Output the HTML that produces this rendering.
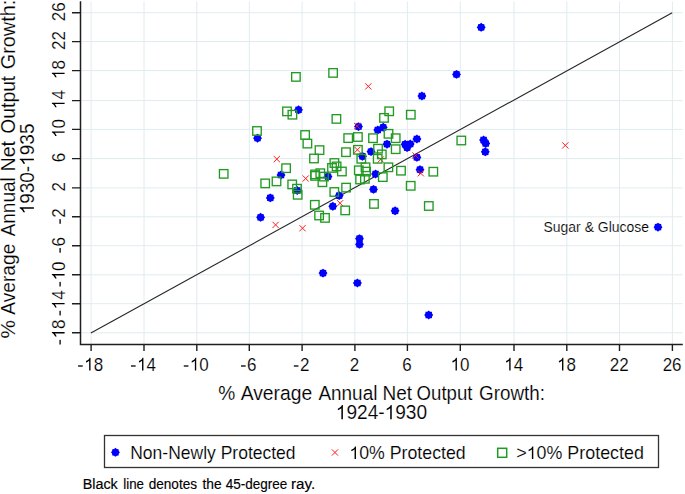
<!DOCTYPE html><html><head><meta charset="utf-8"><style>html,body{margin:0;padding:0;background:#fff;}svg{display:block;}text{font-family:"Liberation Sans",sans-serif;fill:#000;stroke:#fff;stroke-width:0.15px;}</style></head><body>
<svg width="685" height="494" viewBox="0 0 685 494">
<rect width="685" height="494" fill="#fff"/>
<path d="M91.10 1.5V344 M81 332.80H682.5 M144.00 1.5V344 M81 303.70H682.5 M196.80 1.5V344 M81 274.80H682.5 M249.30 1.5V344 M81 245.70H682.5 M302.10 1.5V344 M81 216.80H682.5 M354.90 1.5V344 M81 187.90H682.5 M407.40 1.5V344 M81 158.60H682.5 M460.30 1.5V344 M81 129.40H682.5 M514.00 1.5V344 M81 100.60H682.5 M566.80 1.5V344 M81 70.60H682.5 M619.50 1.5V344 M81 41.60H682.5 M672.40 1.5V344 M81 12.70H682.5" stroke="#e0ecef" stroke-width="1" fill="none"/>
<line x1="90.89" y1="333.06" x2="672.21" y2="12.81" stroke="#262626" stroke-width="1.1"/>
<g fill="#0000ff"><polygon points="481.20,22.85 479.80,23.93 478.05,24.15 477.83,25.90 476.75,27.30 477.83,28.70 478.05,30.45 479.80,30.67 481.20,31.75 482.60,30.67 484.35,30.45 484.57,28.70 485.65,27.30 484.57,25.90 484.35,24.15 482.60,23.93"/><polygon points="456.50,69.95 455.10,71.03 453.35,71.25 453.13,73.00 452.05,74.40 453.13,75.80 453.35,77.55 455.10,77.77 456.50,78.85 457.90,77.77 459.65,77.55 459.87,75.80 460.95,74.40 459.87,73.00 459.65,71.25 457.90,71.03"/><polygon points="421.90,91.55 420.50,92.63 418.75,92.85 418.53,94.60 417.45,96.00 418.53,97.40 418.75,99.15 420.50,99.37 421.90,100.45 423.30,99.37 425.05,99.15 425.27,97.40 426.35,96.00 425.27,94.60 425.05,92.85 423.30,92.63"/><polygon points="298.50,105.35 297.10,106.43 295.35,106.65 295.13,108.40 294.05,109.80 295.13,111.20 295.35,112.95 297.10,113.17 298.50,114.25 299.90,113.17 301.65,112.95 301.87,111.20 302.95,109.80 301.87,108.40 301.65,106.65 299.90,106.43"/><polygon points="257.50,133.75 256.10,134.83 254.35,135.05 254.13,136.80 253.05,138.20 254.13,139.60 254.35,141.35 256.10,141.57 257.50,142.65 258.90,141.57 260.65,141.35 260.87,139.60 261.95,138.20 260.87,136.80 260.65,135.05 258.90,134.83"/><polygon points="358.50,122.15 357.10,123.23 355.35,123.45 355.13,125.20 354.05,126.60 355.13,128.00 355.35,129.75 357.10,129.97 358.50,131.05 359.90,129.97 361.65,129.75 361.87,128.00 362.95,126.60 361.87,125.20 361.65,123.45 359.90,123.23"/><polygon points="377.80,125.55 376.40,126.63 374.65,126.85 374.43,128.60 373.35,130.00 374.43,131.40 374.65,133.15 376.40,133.37 377.80,134.45 379.20,133.37 380.95,133.15 381.17,131.40 382.25,130.00 381.17,128.60 380.95,126.85 379.20,126.63"/><polygon points="383.20,122.85 381.80,123.93 380.05,124.15 379.83,125.90 378.75,127.30 379.83,128.70 380.05,130.45 381.80,130.67 383.20,131.75 384.60,130.67 386.35,130.45 386.57,128.70 387.65,127.30 386.57,125.90 386.35,124.15 384.60,123.93"/><polygon points="416.90,134.55 415.50,135.63 413.75,135.85 413.53,137.60 412.45,139.00 413.53,140.40 413.75,142.15 415.50,142.37 416.90,143.45 418.30,142.37 420.05,142.15 420.27,140.40 421.35,139.00 420.27,137.60 420.05,135.85 418.30,135.63"/><polygon points="387.00,139.75 385.60,140.83 383.85,141.05 383.63,142.80 382.55,144.20 383.63,145.60 383.85,147.35 385.60,147.57 387.00,148.65 388.40,147.57 390.15,147.35 390.37,145.60 391.45,144.20 390.37,142.80 390.15,141.05 388.40,140.83"/><polygon points="405.10,139.85 403.70,140.93 401.95,141.15 401.73,142.90 400.65,144.30 401.73,145.70 401.95,147.45 403.70,147.67 405.10,148.75 406.50,147.67 408.25,147.45 408.47,145.70 409.55,144.30 408.47,142.90 408.25,141.15 406.50,140.93"/><polygon points="410.20,139.55 408.80,140.63 407.05,140.85 406.83,142.60 405.75,144.00 406.83,145.40 407.05,147.15 408.80,147.37 410.20,148.45 411.60,147.37 413.35,147.15 413.57,145.40 414.65,144.00 413.57,142.60 413.35,140.85 411.60,140.63"/><polygon points="407.10,143.15 405.70,144.23 403.95,144.45 403.73,146.20 402.65,147.60 403.73,149.00 403.95,150.75 405.70,150.97 407.10,152.05 408.50,150.97 410.25,150.75 410.47,149.00 411.55,147.60 410.47,146.20 410.25,144.45 408.50,144.23"/><polygon points="483.60,135.55 482.20,136.63 480.45,136.85 480.23,138.60 479.15,140.00 480.23,141.40 480.45,143.15 482.20,143.37 483.60,144.45 485.00,143.37 486.75,143.15 486.97,141.40 488.05,140.00 486.97,138.60 486.75,136.85 485.00,136.63"/><polygon points="485.70,139.05 484.30,140.13 482.55,140.35 482.33,142.10 481.25,143.50 482.33,144.90 482.55,146.65 484.30,146.87 485.70,147.95 487.10,146.87 488.85,146.65 489.07,144.90 490.15,143.50 489.07,142.10 488.85,140.35 487.10,140.13"/><polygon points="485.30,147.35 483.90,148.43 482.15,148.65 481.93,150.40 480.85,151.80 481.93,153.20 482.15,154.95 483.90,155.17 485.30,156.25 486.70,155.17 488.45,154.95 488.67,153.20 489.75,151.80 488.67,150.40 488.45,148.65 486.70,148.43"/><polygon points="362.50,151.85 361.10,152.93 359.35,153.15 359.13,154.90 358.05,156.30 359.13,157.70 359.35,159.45 361.10,159.67 362.50,160.75 363.90,159.67 365.65,159.45 365.87,157.70 366.95,156.30 365.87,154.90 365.65,153.15 363.90,152.93"/><polygon points="371.00,147.15 369.60,148.23 367.85,148.45 367.63,150.20 366.55,151.60 367.63,153.00 367.85,154.75 369.60,154.97 371.00,156.05 372.40,154.97 374.15,154.75 374.37,153.00 375.45,151.60 374.37,150.20 374.15,148.45 372.40,148.23"/><polygon points="416.90,152.95 415.50,154.03 413.75,154.25 413.53,156.00 412.45,157.40 413.53,158.80 413.75,160.55 415.50,160.77 416.90,161.85 418.30,160.77 420.05,160.55 420.27,158.80 421.35,157.40 420.27,156.00 420.05,154.25 418.30,154.03"/><polygon points="420.00,165.25 418.60,166.33 416.85,166.55 416.63,168.30 415.55,169.70 416.63,171.10 416.85,172.85 418.60,173.07 420.00,174.15 421.40,173.07 423.15,172.85 423.37,171.10 424.45,169.70 423.37,168.30 423.15,166.55 421.40,166.33"/><polygon points="281.00,170.55 279.60,171.63 277.85,171.85 277.63,173.60 276.55,175.00 277.63,176.40 277.85,178.15 279.60,178.37 281.00,179.45 282.40,178.37 284.15,178.15 284.37,176.40 285.45,175.00 284.37,173.60 284.15,171.85 282.40,171.63"/><polygon points="328.00,172.15 326.60,173.23 324.85,173.45 324.63,175.20 323.55,176.60 324.63,178.00 324.85,179.75 326.60,179.97 328.00,181.05 329.40,179.97 331.15,179.75 331.37,178.00 332.45,176.60 331.37,175.20 331.15,173.45 329.40,173.23"/><polygon points="375.60,169.55 374.20,170.63 372.45,170.85 372.23,172.60 371.15,174.00 372.23,175.40 372.45,177.15 374.20,177.37 375.60,178.45 377.00,177.37 378.75,177.15 378.97,175.40 380.05,174.00 378.97,172.60 378.75,170.85 377.00,170.63"/><polygon points="297.20,186.05 295.80,187.13 294.05,187.35 293.83,189.10 292.75,190.50 293.83,191.90 294.05,193.65 295.80,193.87 297.20,194.95 298.60,193.87 300.35,193.65 300.57,191.90 301.65,190.50 300.57,189.10 300.35,187.35 298.60,187.13"/><polygon points="339.20,191.15 337.80,192.23 336.05,192.45 335.83,194.20 334.75,195.60 335.83,197.00 336.05,198.75 337.80,198.97 339.20,200.05 340.60,198.97 342.35,198.75 342.57,197.00 343.65,195.60 342.57,194.20 342.35,192.45 340.60,192.23"/><polygon points="373.50,184.95 372.10,186.03 370.35,186.25 370.13,188.00 369.05,189.40 370.13,190.80 370.35,192.55 372.10,192.77 373.50,193.85 374.90,192.77 376.65,192.55 376.87,190.80 377.95,189.40 376.87,188.00 376.65,186.25 374.90,186.03"/><polygon points="270.30,193.45 268.90,194.53 267.15,194.75 266.93,196.50 265.85,197.90 266.93,199.30 267.15,201.05 268.90,201.27 270.30,202.35 271.70,201.27 273.45,201.05 273.67,199.30 274.75,197.90 273.67,196.50 273.45,194.75 271.70,194.53"/><polygon points="332.80,201.85 331.40,202.93 329.65,203.15 329.43,204.90 328.35,206.30 329.43,207.70 329.65,209.45 331.40,209.67 332.80,210.75 334.20,209.67 335.95,209.45 336.17,207.70 337.25,206.30 336.17,204.90 335.95,203.15 334.20,202.93"/><polygon points="395.10,206.35 393.70,207.43 391.95,207.65 391.73,209.40 390.65,210.80 391.73,212.20 391.95,213.95 393.70,214.17 395.10,215.25 396.50,214.17 398.25,213.95 398.47,212.20 399.55,210.80 398.47,209.40 398.25,207.65 396.50,207.43"/><polygon points="260.60,212.85 259.20,213.93 257.45,214.15 257.23,215.90 256.15,217.30 257.23,218.70 257.45,220.45 259.20,220.67 260.60,221.75 262.00,220.67 263.75,220.45 263.97,218.70 265.05,217.30 263.97,215.90 263.75,214.15 262.00,213.93"/><polygon points="359.50,234.25 358.10,235.33 356.35,235.55 356.13,237.30 355.05,238.70 356.13,240.10 356.35,241.85 358.10,242.07 359.50,243.15 360.90,242.07 362.65,241.85 362.87,240.10 363.95,238.70 362.87,237.30 362.65,235.55 360.90,235.33"/><polygon points="359.50,239.85 358.10,240.93 356.35,241.15 356.13,242.90 355.05,244.30 356.13,245.70 356.35,247.45 358.10,247.67 359.50,248.75 360.90,247.67 362.65,247.45 362.87,245.70 363.95,244.30 362.87,242.90 362.65,241.15 360.90,240.93"/><polygon points="323.00,268.65 321.60,269.73 319.85,269.95 319.63,271.70 318.55,273.10 319.63,274.50 319.85,276.25 321.60,276.47 323.00,277.55 324.40,276.47 326.15,276.25 326.37,274.50 327.45,273.10 326.37,271.70 326.15,269.95 324.40,269.73"/><polygon points="357.40,278.55 356.00,279.63 354.25,279.85 354.03,281.60 352.95,283.00 354.03,284.40 354.25,286.15 356.00,286.37 357.40,287.45 358.80,286.37 360.55,286.15 360.77,284.40 361.85,283.00 360.77,281.60 360.55,279.85 358.80,279.63"/><polygon points="428.70,310.55 427.30,311.63 425.55,311.85 425.33,313.60 424.25,315.00 425.33,316.40 425.55,318.15 427.30,318.37 428.70,319.45 430.10,318.37 431.85,318.15 432.07,316.40 433.15,315.00 432.07,313.60 431.85,311.85 430.10,311.63"/><polygon points="658.00,222.75 656.60,223.83 654.85,224.05 654.63,225.80 653.55,227.20 654.63,228.60 654.85,230.35 656.60,230.57 658.00,231.65 659.40,230.57 661.15,230.35 661.37,228.60 662.45,227.20 661.37,225.80 661.15,224.05 659.40,223.83"/></g>
<path d="M365.20 83.30L371.40 89.50M365.20 89.50L371.40 83.30M354.10 123.00L360.30 129.20M354.10 129.20L360.30 123.00M273.70 156.00L279.90 162.20M273.70 162.20L279.90 156.00M302.60 175.40L308.80 181.60M302.60 181.60L308.80 175.40M354.30 146.70L360.50 152.90M354.30 152.90L360.50 146.70M377.60 156.40L383.80 162.60M377.60 162.60L383.80 156.40M412.50 152.40L418.70 158.60M412.50 158.60L418.70 152.40M417.70 170.20L423.90 176.40M417.70 176.40L423.90 170.20M272.50 221.80L278.70 228.00M272.50 228.00L278.70 221.80M299.40 225.10L305.60 231.30M299.40 231.30L305.60 225.10M337.00 200.10L343.20 206.30M337.00 206.30L343.20 200.10M562.20 142.30L568.40 148.50M562.20 148.50L568.40 142.30" stroke="#ff1a1a" stroke-width="1.0" fill="none"/>
<g fill="none" stroke="#239a23" stroke-width="1.35"><rect x="291.65" y="72.65" width="8.5" height="8.5"/><rect x="328.85" y="68.65" width="8.5" height="8.5"/><rect x="282.75" y="107.15" width="8.5" height="8.5"/><rect x="288.15" y="110.45" width="8.5" height="8.5"/><rect x="332.15" y="114.65" width="8.5" height="8.5"/><rect x="384.95" y="107.05" width="8.5" height="8.5"/><rect x="379.75" y="113.65" width="8.5" height="8.5"/><rect x="406.55" y="110.45" width="8.5" height="8.5"/><rect x="252.75" y="126.75" width="8.5" height="8.5"/><rect x="300.85" y="130.75" width="8.5" height="8.5"/><rect x="303.15" y="139.35" width="8.5" height="8.5"/><rect x="343.95" y="133.85" width="8.5" height="8.5"/><rect x="353.65" y="132.75" width="8.5" height="8.5"/><rect x="368.75" y="133.95" width="8.5" height="8.5"/><rect x="384.25" y="129.55" width="8.5" height="8.5"/><rect x="391.45" y="133.95" width="8.5" height="8.5"/><rect x="315.25" y="145.85" width="8.5" height="8.5"/><rect x="341.75" y="147.95" width="8.5" height="8.5"/><rect x="353.65" y="145.55" width="8.5" height="8.5"/><rect x="373.75" y="144.45" width="8.5" height="8.5"/><rect x="377.55" y="150.15" width="8.5" height="8.5"/><rect x="391.45" y="144.95" width="8.5" height="8.5"/><rect x="309.75" y="154.25" width="8.5" height="8.5"/><rect x="357.05" y="154.55" width="8.5" height="8.5"/><rect x="373.45" y="154.55" width="8.5" height="8.5"/><rect x="384.15" y="163.05" width="8.5" height="8.5"/><rect x="396.75" y="166.45" width="8.5" height="8.5"/><rect x="429.05" y="167.45" width="8.5" height="8.5"/><rect x="281.85" y="163.95" width="8.5" height="8.5"/><rect x="219.45" y="169.60" width="8.5" height="8.5"/><rect x="310.85" y="170.15" width="8.5" height="8.5"/><rect x="310.85" y="171.65" width="8.5" height="8.5"/><rect x="316.05" y="168.95" width="8.5" height="8.5"/><rect x="319.75" y="172.35" width="8.5" height="8.5"/><rect x="318.15" y="177.95" width="8.5" height="8.5"/><rect x="327.75" y="163.65" width="8.5" height="8.5"/><rect x="330.15" y="158.75" width="8.5" height="8.5"/><rect x="332.35" y="162.15" width="8.5" height="8.5"/><rect x="337.65" y="167.25" width="8.5" height="8.5"/><rect x="354.55" y="166.05" width="8.5" height="8.5"/><rect x="361.25" y="163.05" width="8.5" height="8.5"/><rect x="361.85" y="167.35" width="8.5" height="8.5"/><rect x="355.85" y="175.25" width="8.5" height="8.5"/><rect x="360.65" y="174.55" width="8.5" height="8.5"/><rect x="378.55" y="172.85" width="8.5" height="8.5"/><rect x="287.95" y="180.15" width="8.5" height="8.5"/><rect x="292.75" y="184.45" width="8.5" height="8.5"/><rect x="293.45" y="190.55" width="8.5" height="8.5"/><rect x="260.95" y="179.15" width="8.5" height="8.5"/><rect x="272.25" y="177.15" width="8.5" height="8.5"/><rect x="341.85" y="183.35" width="8.5" height="8.5"/><rect x="330.05" y="187.75" width="8.5" height="8.5"/><rect x="310.55" y="200.55" width="8.5" height="8.5"/><rect x="314.85" y="211.25" width="8.5" height="8.5"/><rect x="320.75" y="213.65" width="8.5" height="8.5"/><rect x="340.95" y="206.15" width="8.5" height="8.5"/><rect x="369.75" y="199.65" width="8.5" height="8.5"/><rect x="406.45" y="181.55" width="8.5" height="8.5"/><rect x="424.55" y="201.75" width="8.5" height="8.5"/><rect x="457.05" y="136.25" width="8.5" height="8.5"/></g>
<path d="M80.5 1.2V344.5H682.8" stroke="#1e1e1e" stroke-width="1.5" fill="none"/>
<path d="M72 332.80H80 M91.10 345V351 M72 303.70H80 M144.00 345V351 M72 274.80H80 M196.80 345V351 M72 245.70H80 M249.30 345V351 M72 216.80H80 M302.10 345V351 M72 187.90H80 M354.90 345V351 M72 158.60H80 M407.40 345V351 M72 129.40H80 M460.30 345V351 M72 100.60H80 M514.00 345V351 M72 70.60H80 M566.80 345V351 M72 41.60H80 M619.50 345V351 M72 12.70H80 M672.40 345V351" stroke="#1e1e1e" stroke-width="1.4" fill="none"/>
<text transform="translate(84.18 370.5) scale(1 1.07)" x="0" y="0" font-size="17"> 8</text>
<rect x="78.08" y="365.35" width="4.65" height="1.3" fill="#000"/>
<g transform="translate(64.6 331.80) rotate(-90)"><text transform="scale(1 1.07)" x="-6.62" y="0" font-size="17"> 8</text><rect x="-12.72" y="-5.15" width="4.65" height="1.3" fill="#000"/></g>
<text transform="translate(137.08 370.5) scale(1 1.07)" x="0" y="0" font-size="17"> 4</text>
<rect x="130.98" y="365.35" width="4.65" height="1.3" fill="#000"/>
<g transform="translate(64.6 302.70) rotate(-90)"><text transform="scale(1 1.07)" x="-6.62" y="0" font-size="17"> 4</text><rect x="-12.72" y="-5.15" width="4.65" height="1.3" fill="#000"/></g>
<text transform="translate(189.88 370.5) scale(1 1.07)" x="0" y="0" font-size="17"> 0</text>
<rect x="183.78" y="365.35" width="4.65" height="1.3" fill="#000"/>
<g transform="translate(64.6 273.80) rotate(-90)"><text transform="scale(1 1.07)" x="-6.62" y="0" font-size="17"> 0</text><rect x="-12.72" y="-5.15" width="4.65" height="1.3" fill="#000"/></g>
<text transform="translate(247.10 370.5) scale(1 1.07)" x="0" y="0" font-size="17">6</text>
<rect x="241.00" y="365.35" width="4.65" height="1.3" fill="#000"/>
<g transform="translate(64.6 244.70) rotate(-90)"><text transform="scale(1 1.07)" x="-1.90" y="0" font-size="17">6</text><rect x="-8.00" y="-5.15" width="4.65" height="1.3" fill="#000"/></g>
<text transform="translate(299.90 370.5) scale(1 1.07)" x="0" y="0" font-size="17">2</text>
<rect x="293.80" y="365.35" width="4.65" height="1.3" fill="#000"/>
<g transform="translate(64.6 215.80) rotate(-90)"><text transform="scale(1 1.07)" x="-1.90" y="0" font-size="17">2</text><rect x="-8.00" y="-5.15" width="4.65" height="1.3" fill="#000"/></g>
<text transform="translate(349.87 370.5) scale(1 1.07)" x="0" y="0" font-size="17">2</text>
<g transform="translate(64.6 186.90) rotate(-90)"><text transform="scale(1 1.07)" x="-4.73" y="0" font-size="17">2</text></g>
<text transform="translate(402.37 370.5) scale(1 1.07)" x="0" y="0" font-size="17">6</text>
<g transform="translate(64.6 157.60) rotate(-90)"><text transform="scale(1 1.07)" x="-4.73" y="0" font-size="17">6</text></g>
<text transform="translate(450.55 370.5) scale(1 1.07)" x="0" y="0" font-size="17"> 0</text>
<g transform="translate(64.6 128.40) rotate(-90)"><text transform="scale(1 1.07)" x="-9.45" y="0" font-size="17"> 0</text></g>
<text transform="translate(504.25 370.5) scale(1 1.07)" x="0" y="0" font-size="17"> 4</text>
<g transform="translate(64.6 99.60) rotate(-90)"><text transform="scale(1 1.07)" x="-9.45" y="0" font-size="17"> 4</text></g>
<text transform="translate(557.05 370.5) scale(1 1.07)" x="0" y="0" font-size="17"> 8</text>
<g transform="translate(64.6 69.60) rotate(-90)"><text transform="scale(1 1.07)" x="-9.45" y="0" font-size="17"> 8</text></g>
<text transform="translate(609.75 370.5) scale(1 1.07)" x="0" y="0" font-size="17">22</text>
<g transform="translate(64.6 40.60) rotate(-90)"><text transform="scale(1 1.07)" x="-9.45" y="0" font-size="17">22</text></g>
<text transform="translate(662.65 370.5) scale(1 1.07)" x="0" y="0" font-size="17">26</text>
<g transform="translate(64.6 11.70) rotate(-90)"><text transform="scale(1 1.07)" x="-9.45" y="0" font-size="17">26</text></g>
<text transform="translate(218.13 400.4) scale(1 1.07)" x="0" y="0" font-size="19" textLength="17.02" lengthAdjust="spacingAndGlyphs">%</text>
<text transform="translate(240.70 400.4) scale(1 1.07)" x="0" y="0" font-size="19" textLength="71.50" lengthAdjust="spacingAndGlyphs">Average</text>
<text transform="translate(318.40 400.4) scale(1 1.07)" x="0" y="0" font-size="19" textLength="59.01" lengthAdjust="spacingAndGlyphs">Annual</text>
<text transform="translate(382.58 400.4) scale(1 1.07)" x="0" y="0" font-size="19" textLength="29.54" lengthAdjust="spacingAndGlyphs">Net</text>
<text transform="translate(416.56 400.4) scale(1 1.07)" x="0" y="0" font-size="19" textLength="55.87" lengthAdjust="spacingAndGlyphs">Output</text>
<text transform="translate(479.06 400.4) scale(1 1.07)" x="0" y="0" font-size="19" textLength="65.96" lengthAdjust="spacingAndGlyphs">Growth:</text>
<text transform="translate(335.77 419.2) scale(1 1.07)" x="0" y="0" font-size="19" textLength="91.35" lengthAdjust="spacingAndGlyphs"> 924- 930</text>
<text transform="translate(15.3 337.9) rotate(-90) scale(1 1.07)" x="-0.73" y="0" font-size="19" textLength="18.43" lengthAdjust="spacingAndGlyphs">%</text>
<text transform="translate(15.3 314.8) rotate(-90) scale(1 1.07)" x="0.00" y="0" font-size="19" textLength="71.20" lengthAdjust="spacingAndGlyphs">Average</text>
<text transform="translate(15.3 236.3) rotate(-90) scale(1 1.07)" x="0.00" y="0" font-size="19" textLength="59.01" lengthAdjust="spacingAndGlyphs">Annual</text>
<text transform="translate(15.3 169.9) rotate(-90) scale(1 1.07)" x="-1.57" y="0" font-size="19" textLength="30.49" lengthAdjust="spacingAndGlyphs">Net</text>
<text transform="translate(15.3 132.9) rotate(-90) scale(1 1.07)" x="-0.87" y="0" font-size="19" textLength="58.01" lengthAdjust="spacingAndGlyphs">Output</text>
<text transform="translate(15.3 68.2) rotate(-90) scale(1 1.07)" x="-0.99" y="0" font-size="19" textLength="69.40" lengthAdjust="spacingAndGlyphs">Growth:</text>
<text transform="translate(33.9 213) rotate(-90) scale(1 1.07)" x="-1.43" y="0" font-size="19" textLength="90.93" lengthAdjust="spacingAndGlyphs"> 930- 935</text>
<text transform="translate(543.57 232) scale(1 1.0)" x="0" y="0" font-size="14" textLength="105.38" lengthAdjust="spacingAndGlyphs">Sugar &amp; Glucose</text>
<rect x="104.5" y="435.5" width="554" height="32" fill="none" stroke="#333" stroke-width="1.3"/>
<g fill="#0000ff"><polygon points="115.45,447.85 114.05,448.93 112.30,449.15 112.08,450.90 111.00,452.30 112.08,453.70 112.30,455.45 114.05,455.67 115.45,456.75 116.85,455.67 118.60,455.45 118.82,453.70 119.90,452.30 118.82,450.90 118.60,449.15 116.85,448.93"/></g>
<text transform="translate(130.20 459) scale(1 1.0)" x="0" y="0" font-size="17.8" textLength="165.41" lengthAdjust="spacingAndGlyphs">Non-Newly Protected</text>
<path d="M331.84999999999997 449.4L338.05 455.6M331.84999999999997 455.6L338.05 449.4" stroke="#ff1a1a" stroke-width="1.0"/>
<text transform="translate(349.37 459) scale(1 1.0)" x="0" y="0" font-size="17.8" textLength="116.29" lengthAdjust="spacingAndGlyphs"> 0% Protected</text>
<rect x="497.7" y="448.3" width="9" height="9" fill="none" stroke="#239a23" stroke-width="1.5"/>
<text transform="translate(516.20 459) scale(1 1.0)" x="0" y="0" font-size="17.8" textLength="127.65" lengthAdjust="spacingAndGlyphs">&gt; 0% Protected</text>
<text transform="translate(82.65 488.8) scale(1 1.07)" x="0" y="0" font-size="14.3" textLength="35.08" lengthAdjust="spacingAndGlyphs" style="stroke:#000;stroke-width:0.15px">Black</text>
<text transform="translate(123.23 488.8) scale(1 1.07)" x="0" y="0" font-size="14.3" textLength="20.72" lengthAdjust="spacingAndGlyphs" style="stroke:#000;stroke-width:0.15px">line</text>
<text transform="translate(148.66 488.8) scale(1 1.07)" x="0" y="0" font-size="14.3" textLength="48.40" lengthAdjust="spacingAndGlyphs" style="stroke:#000;stroke-width:0.15px">denotes</text>
<text transform="translate(202.39 488.8) scale(1 1.07)" x="0" y="0" font-size="14.3" textLength="19.16" lengthAdjust="spacingAndGlyphs" style="stroke:#000;stroke-width:0.15px">the</text>
<text transform="translate(225.63 488.8) scale(1 1.07)" x="0" y="0" font-size="14.3" textLength="61.60" lengthAdjust="spacingAndGlyphs" style="stroke:#000;stroke-width:0.15px">45-degree</text>
<text transform="translate(291.01 488.8) scale(1 1.07)" x="0" y="0" font-size="14.3" textLength="24.22" lengthAdjust="spacingAndGlyphs" style="stroke:#000;stroke-width:0.15px">ray.</text>
<g fill="#000"><path transform="translate(84.18 370.5) scale(1 1.07) translate(0.00 0.00) scale(17.010 -16.575)" d="M0.373 0H0.293V0.555L0.253 0.522L0.169 0.472L0.109 0.446V0.531L0.193 0.572L0.262 0.625L0.300 0.672L0.318 0.716H0.373Z"/><path transform="translate(64.6 331.80) rotate(-90) scale(1 1.07) translate(-6.62 0.00) scale(17.010 -16.575)" d="M0.373 0H0.293V0.555L0.253 0.522L0.169 0.472L0.109 0.446V0.531L0.193 0.572L0.262 0.625L0.300 0.672L0.318 0.716H0.373Z"/><path transform="translate(137.08 370.5) scale(1 1.07) translate(0.00 0.00) scale(17.010 -16.575)" d="M0.373 0H0.293V0.555L0.253 0.522L0.169 0.472L0.109 0.446V0.531L0.193 0.572L0.262 0.625L0.300 0.672L0.318 0.716H0.373Z"/><path transform="translate(64.6 302.70) rotate(-90) scale(1 1.07) translate(-6.62 0.00) scale(17.010 -16.575)" d="M0.373 0H0.293V0.555L0.253 0.522L0.169 0.472L0.109 0.446V0.531L0.193 0.572L0.262 0.625L0.300 0.672L0.318 0.716H0.373Z"/><path transform="translate(189.88 370.5) scale(1 1.07) translate(0.00 0.00) scale(17.010 -16.575)" d="M0.373 0H0.293V0.555L0.253 0.522L0.169 0.472L0.109 0.446V0.531L0.193 0.572L0.262 0.625L0.300 0.672L0.318 0.716H0.373Z"/><path transform="translate(64.6 273.80) rotate(-90) scale(1 1.07) translate(-6.62 0.00) scale(17.010 -16.575)" d="M0.373 0H0.293V0.555L0.253 0.522L0.169 0.472L0.109 0.446V0.531L0.193 0.572L0.262 0.625L0.300 0.672L0.318 0.716H0.373Z"/><path transform="translate(450.55 370.5) scale(1 1.07) translate(0.00 0.00) scale(17.010 -16.575)" d="M0.373 0H0.293V0.555L0.253 0.522L0.169 0.472L0.109 0.446V0.531L0.193 0.572L0.262 0.625L0.300 0.672L0.318 0.716H0.373Z"/><path transform="translate(64.6 128.40) rotate(-90) scale(1 1.07) translate(-9.45 0.00) scale(17.010 -16.575)" d="M0.373 0H0.293V0.555L0.253 0.522L0.169 0.472L0.109 0.446V0.531L0.193 0.572L0.262 0.625L0.300 0.672L0.318 0.716H0.373Z"/><path transform="translate(504.25 370.5) scale(1 1.07) translate(0.00 0.00) scale(17.010 -16.575)" d="M0.373 0H0.293V0.555L0.253 0.522L0.169 0.472L0.109 0.446V0.531L0.193 0.572L0.262 0.625L0.300 0.672L0.318 0.716H0.373Z"/><path transform="translate(64.6 99.60) rotate(-90) scale(1 1.07) translate(-9.45 0.00) scale(17.010 -16.575)" d="M0.373 0H0.293V0.555L0.253 0.522L0.169 0.472L0.109 0.446V0.531L0.193 0.572L0.262 0.625L0.300 0.672L0.318 0.716H0.373Z"/><path transform="translate(557.05 370.5) scale(1 1.07) translate(0.00 0.00) scale(17.010 -16.575)" d="M0.373 0H0.293V0.555L0.253 0.522L0.169 0.472L0.109 0.446V0.531L0.193 0.572L0.262 0.625L0.300 0.672L0.318 0.716H0.373Z"/><path transform="translate(64.6 69.60) rotate(-90) scale(1 1.07) translate(-9.45 0.00) scale(17.010 -16.575)" d="M0.373 0H0.293V0.555L0.253 0.522L0.169 0.472L0.109 0.446V0.531L0.193 0.572L0.262 0.625L0.300 0.672L0.318 0.716H0.373Z"/><path transform="translate(335.77 419.2) scale(1 1.07) translate(0.00 0.00) scale(19.109 -18.525)" d="M0.373 0H0.293V0.555L0.253 0.522L0.169 0.472L0.109 0.446V0.531L0.193 0.572L0.262 0.625L0.300 0.672L0.318 0.716H0.373Z"/><path transform="translate(335.77 419.2) scale(1 1.07) translate(48.84 0.00) scale(19.136 -18.525)" d="M0.373 0H0.293V0.555L0.253 0.522L0.169 0.472L0.109 0.446V0.531L0.193 0.572L0.262 0.625L0.300 0.672L0.318 0.716H0.373Z"/><path transform="translate(33.9 213) rotate(-90) scale(1 1.07) translate(-1.43 0.00) scale(19.021 -18.525)" d="M0.373 0H0.293V0.555L0.253 0.522L0.169 0.472L0.109 0.446V0.531L0.193 0.572L0.262 0.625L0.300 0.672L0.318 0.716H0.373Z"/><path transform="translate(33.9 213) rotate(-90) scale(1 1.07) translate(47.19 0.00) scale(19.048 -18.525)" d="M0.373 0H0.293V0.555L0.253 0.522L0.169 0.472L0.109 0.446V0.531L0.193 0.572L0.262 0.625L0.300 0.672L0.318 0.716H0.373Z"/><path transform="translate(349.37 459) scale(1 1.0) translate(0.00 0.00) scale(17.731 -17.355)" d="M0.373 0H0.293V0.555L0.253 0.522L0.169 0.472L0.109 0.446V0.531L0.193 0.572L0.262 0.625L0.300 0.672L0.318 0.716H0.373Z"/><path transform="translate(516.20 459) scale(1 1.0) translate(10.43 0.00) scale(17.899 -17.355)" d="M0.373 0H0.293V0.555L0.253 0.522L0.169 0.472L0.109 0.446V0.531L0.193 0.572L0.262 0.625L0.300 0.672L0.318 0.716H0.373Z"/></g></svg></body></html>
